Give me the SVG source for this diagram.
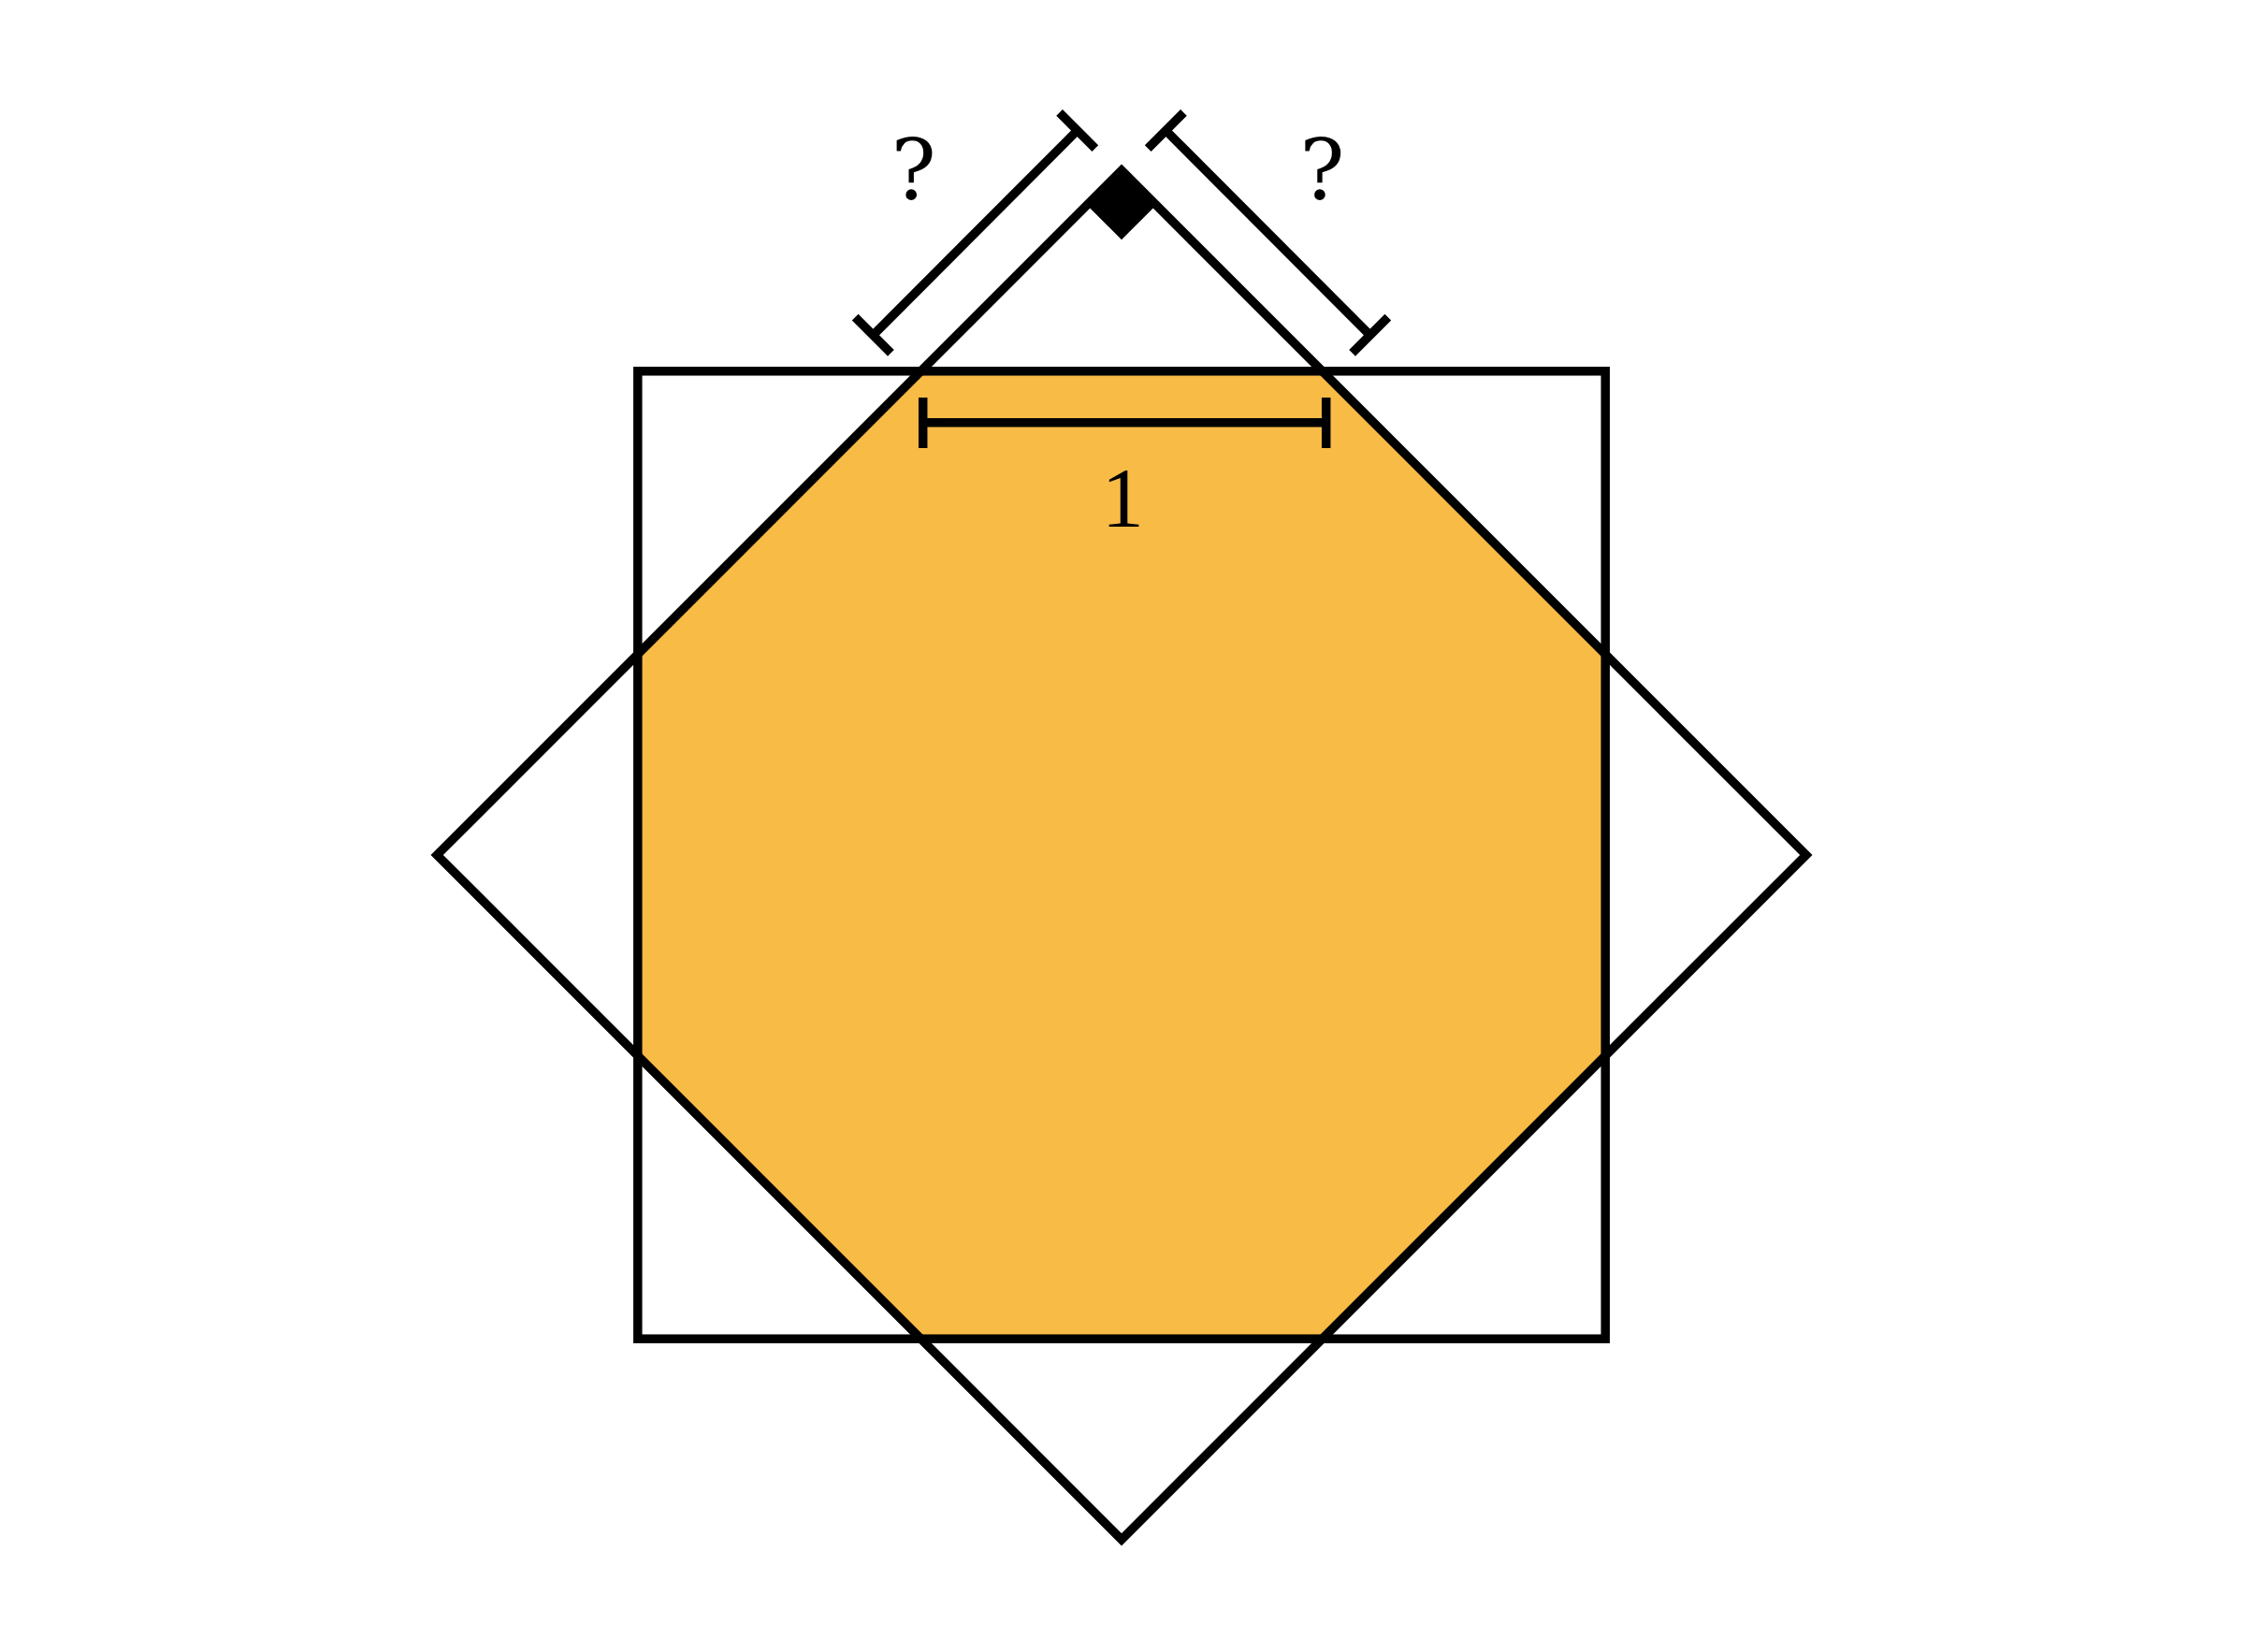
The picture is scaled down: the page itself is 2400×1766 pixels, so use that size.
<svg xmlns="http://www.w3.org/2000/svg" width="2400" height="1766" viewBox="0 0 2400 1766">
  <style>
    .ln { fill: none; stroke: #000; stroke-width: 9.5; stroke-linecap: butt; stroke-linejoin: miter; stroke-miterlimit: 10; }
    .lbl { font-family: "Liberation Serif", "DejaVu Serif", serif; fill: #000; text-anchor: middle; }
    .q { font-family: "DejaVu Serif", "Liberation Serif", serif; fill: #000; text-anchor: middle; }
  </style>
  <rect x="0" y="0" width="2400" height="1766" fill="#fff"/>
  <g id="octagon">
    <polygon points="984.4,396.8 1413.6,396.8 1716.2,699.4 1716.2,1128.6 1413.6,1431.2 984.4,1431.2 681.8,1128.6 681.8,699.4" fill="#F8BB46" stroke="none"/>
  </g>
  <g id="square">
    <rect class="ln" x="681.8" y="396.8" width="1034.4" height="1034.4"/>
  </g>
  <g id="diamond">
    <polygon class="ln" points="1199,182.2 1930.8,914 1199,1645.8 467.2,914"/>
  </g>
  <g id="right-angle">
    <polygon points="1199,182.2 1162,219.2 1199,256.2 1236,219.2" fill="#000"/>
  </g>
  <g id="dimensions">
    <g id="dim-left">
      <line class="ln" x1="933.3" y1="358.3" x2="1151.7" y2="139.5"/>
      <line class="ln" x1="914.2" y1="339.2" x2="952.4" y2="377.4"/>
      <line class="ln" x1="1132.6" y1="120.4" x2="1170.8" y2="158.6"/>
    </g>
    <g id="dim-right">
      <line class="ln" x1="1246.3" y1="139.5" x2="1464.7" y2="358.3"/>
      <line class="ln" x1="1227.2" y1="158.6" x2="1265.4" y2="120.4"/>
      <line class="ln" x1="1445.6" y1="377.4" x2="1483.8" y2="339.2"/>
    </g>
    <g id="dim-one">
      <line class="ln" x1="986.7" y1="451.7" x2="1417.7" y2="451.7"/>
      <line class="ln" x1="986.7" y1="425" x2="986.7" y2="479"/>
      <line class="ln" x1="1417.7" y1="425" x2="1417.7" y2="479"/>
    </g>
  </g>
  <g id="labels">
    <text class="q" x="976.7" y="213" font-size="90">?</text>
    <text class="q" x="1413.3" y="213" font-size="90">?</text>
    <text class="lbl" x="1200.3" y="562.7" font-size="90">1</text>
  </g>
</svg>
